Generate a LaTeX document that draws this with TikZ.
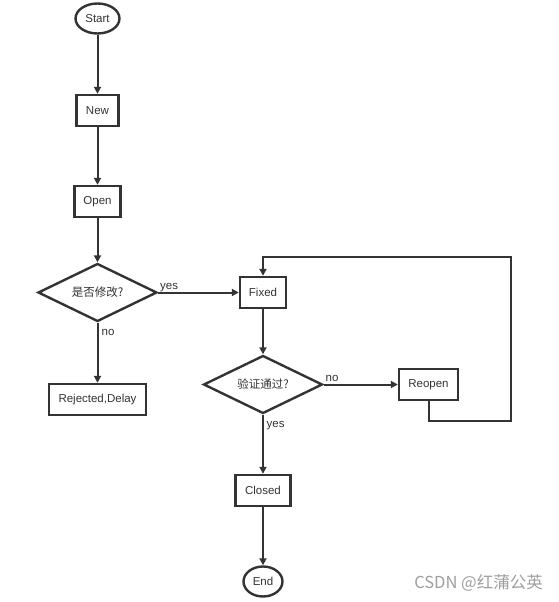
\documentclass[tikz,border=0pt]{standalone}
\usepackage{fontspec}
\setmainfont{Liberation Sans}
\newfontfamily\cjk{Noto Sans CJK SC}
\usetikzlibrary{shapes.geometric,arrows.meta}
\definecolor{ink}{HTML}{333333}
\tikzset{
  base/.style={draw=ink, line width=2.4pt, text=ink, inner sep=0pt, font=\fontsize{11.5}{13}\selectfont},
  term/.style={base, ellipse, minimum width=#1, minimum height=30pt},
  term/.default=43pt,
  proc/.style={base, rectangle, minimum height=31pt},
  dec/.style={base, diamond, aspect=2, minimum width=119pt, minimum height=58pt},
  conn/.style={draw=ink, line width=2pt, -{Triangle[length=7pt,width=7pt]}},
  lbl/.style={text=ink, inner sep=0pt, font=\fontsize{11.5}{13}\selectfont}
}
\begin{document}
\begin{tikzpicture}[x=1pt,y=-1pt]
\useasboundingbox (0,0) rectangle (558,602);
\node[term=44pt] (start) at (97.5,18.5) {Start};
\node[proc, minimum width=42pt] (new) at (97.5,110.5) {New};
\node[proc, minimum width=46pt] (open) at (97.5,201.5) {Open};
\node[dec] (q1) at (97.5,292.5) {\cjk 是否修改?};
\node[proc, minimum width=97pt] (rej) at (97.5,399.5) {Rejected,Delay};
\node[proc, minimum width=46pt] (fixed) at (263,292.5) {Fixed};
\node[dec] (q2) at (263,384.5) {\cjk 验证通过?};
\node[proc, minimum width=59pt] (reopen) at (428.5,384.5) {Reopen};
\node[proc, minimum width=55pt] (closed) at (263,490.5) {Closed};
\node[term=39pt] (end) at (263,581.5) {End};
\coordinate (c1) at (428.5,420.5);
\coordinate (c2) at (511,420.5);
\coordinate (c3) at (511,256.5);
\coordinate (c4) at (263,256.5);

\draw[conn] (start) -- (new);
\draw[conn] (new) -- (open);
\draw[conn] (open) -- (q1);
\draw[conn] (q1) -- (fixed);
\draw[conn] (q1) -- (rej);
\draw[conn] (fixed) -- (q2);
\draw[conn] (q2) -- (reopen);
\draw[conn] (q2) -- (closed);
\draw[conn] (closed) -- (end);
\draw[conn] (reopen.south) -- (c1) -- (c2) -- (c3) -- (c4) -- (fixed.north);

\node[lbl, anchor=base west] (y1) at (160,289) {yes};
\node[lbl, anchor=base west] (n1) at (101.5,335) {no};
\node[lbl, anchor=base west] (n2) at (325.5,381) {no};
\node[lbl, anchor=base west] (y2) at (266.5,427.5) {yes};
\node[text=black!38, inner sep=0pt, anchor=east, font=\cjk\fontsize{16.5}{18}\selectfont] (wm) at (543,582.5) {CSDN @红蒲公英};
\end{tikzpicture}
\end{document}
